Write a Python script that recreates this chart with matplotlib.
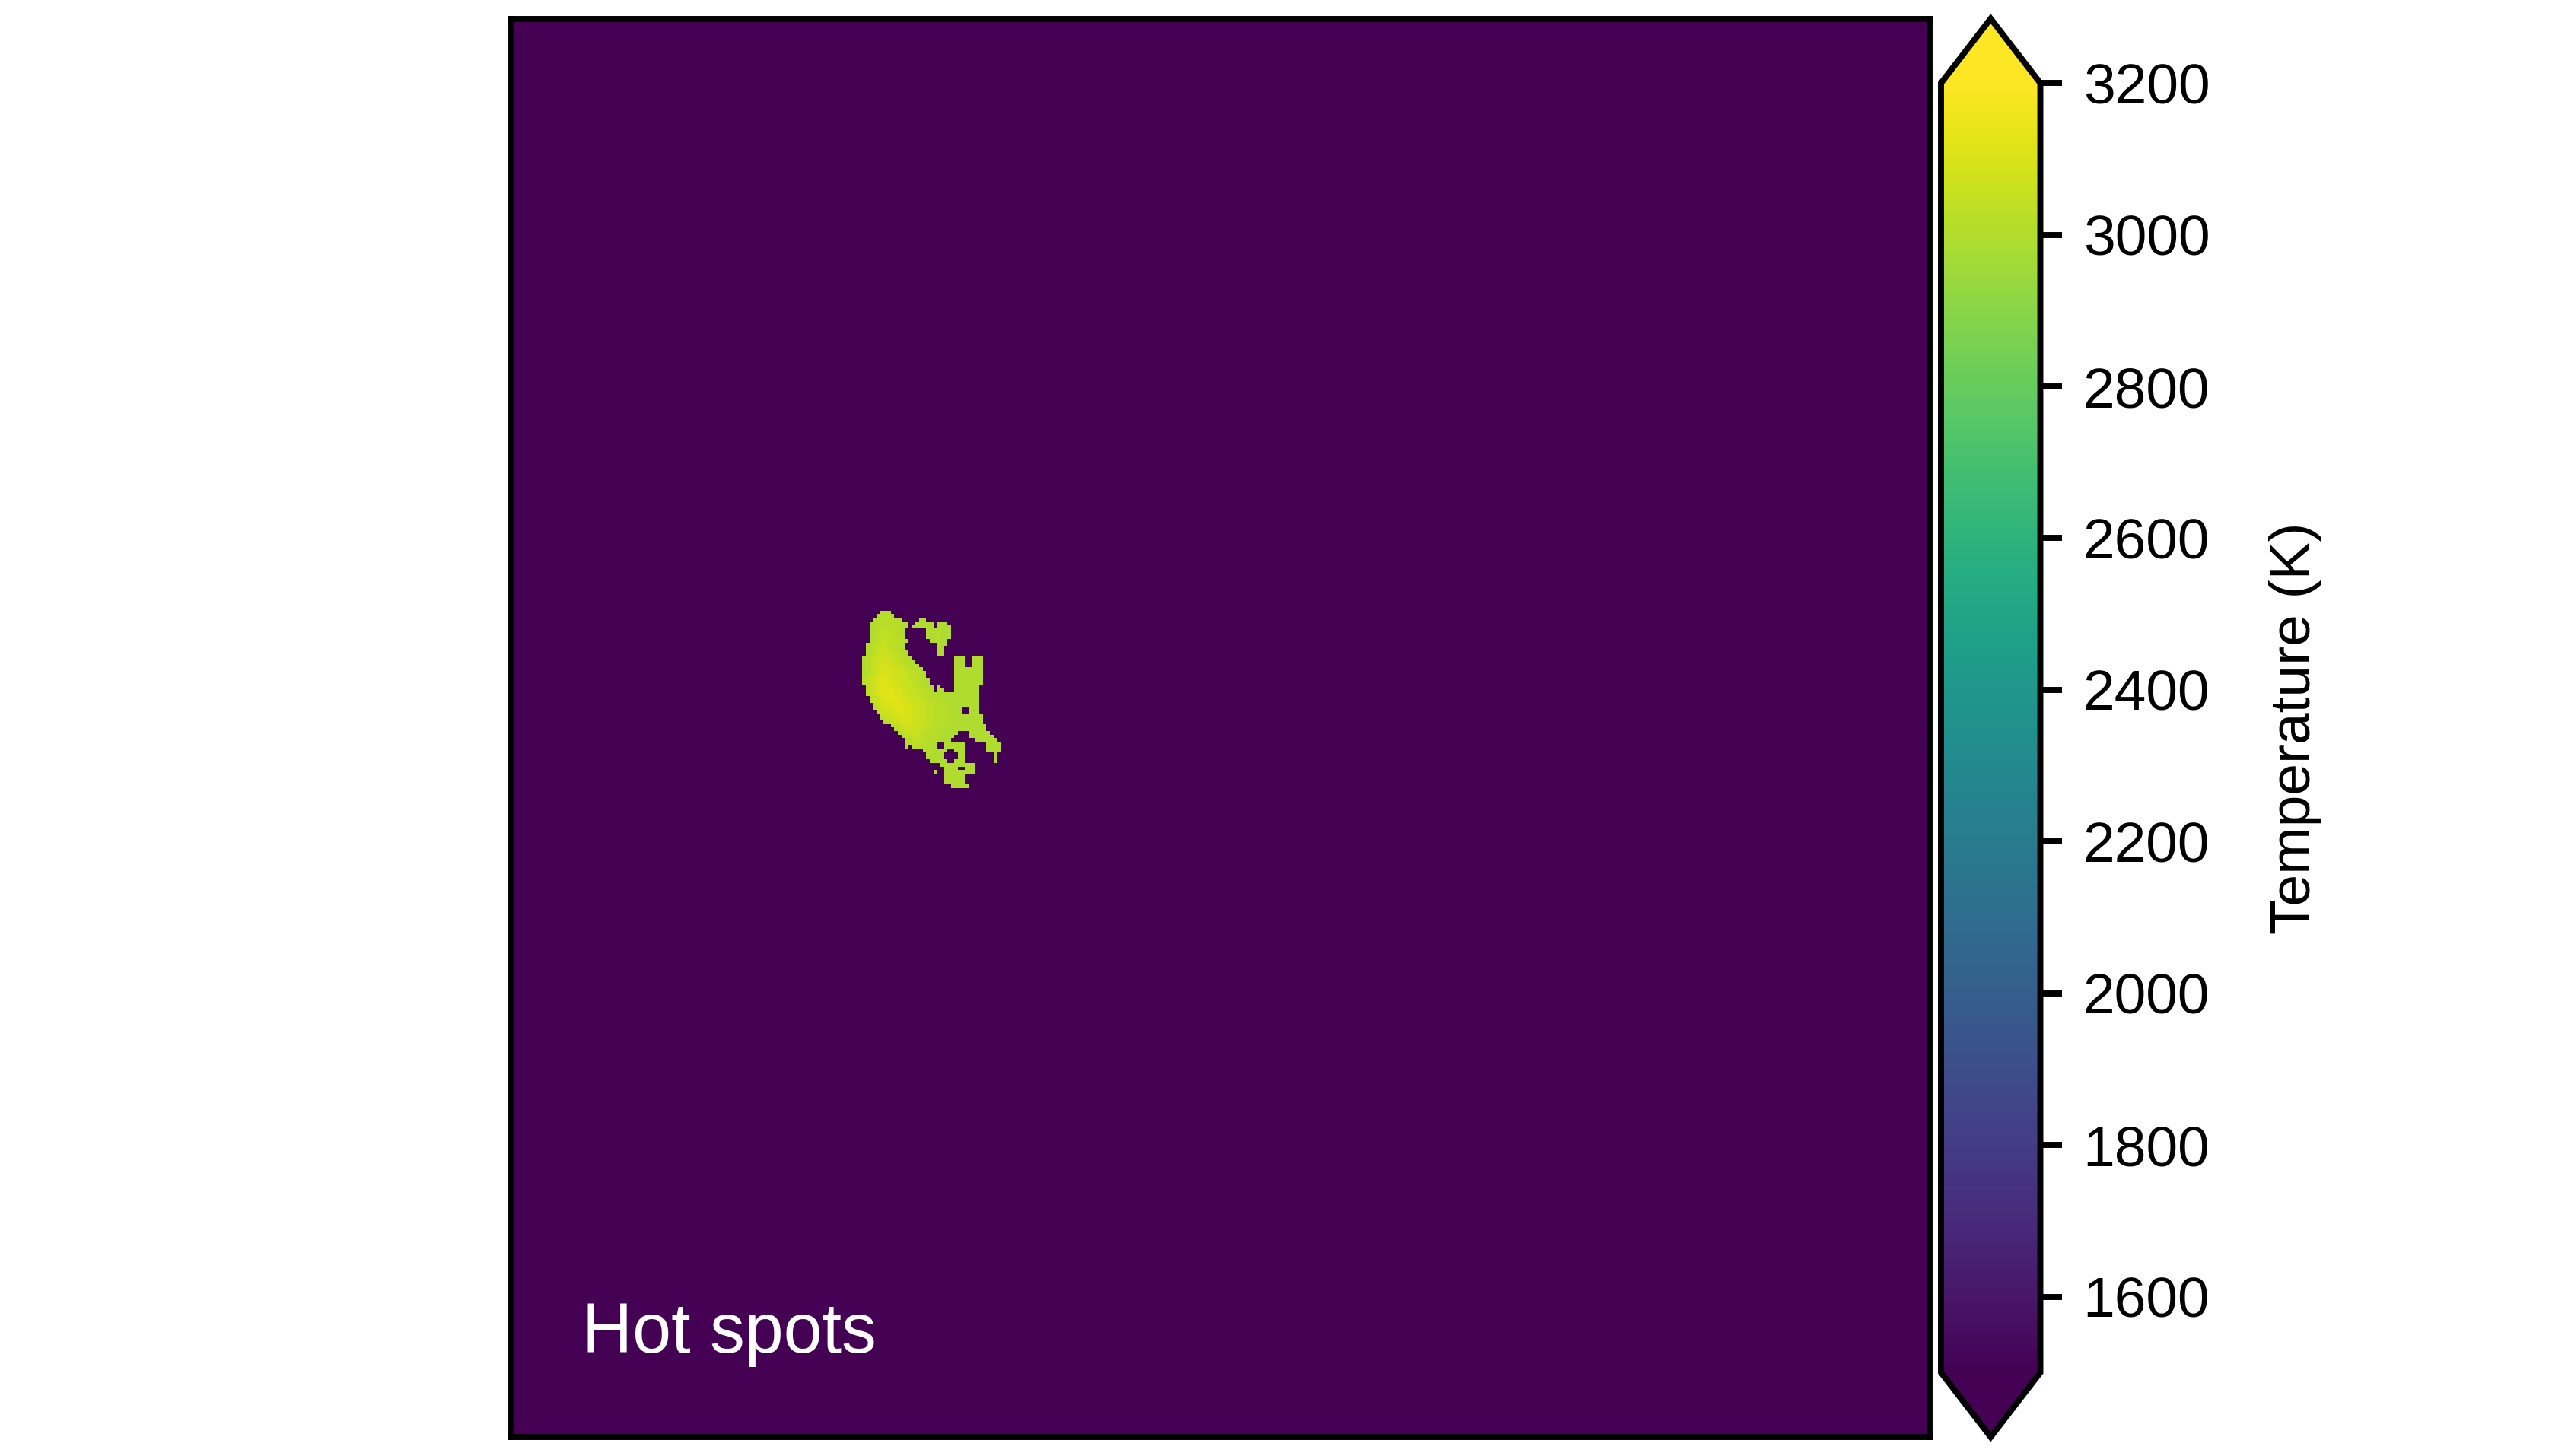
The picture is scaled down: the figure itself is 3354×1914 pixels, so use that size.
import matplotlib
matplotlib.use("Agg")
import matplotlib.pyplot as plt
import numpy as np

plt.rcParams['font.family'] = ['Liberation Sans', 'DejaVu Sans']

# 400 x 400 temperature map, everything outside the hot spot is cold
GRID_SIZE = 400
BACKGROUND_T = 300.0
T_MIN, T_MAX = 1500, 3200
cbar_ticks = [1600, 1800, 2000, 2200, 2400, 2600, 2800, 3000, 3200]
cbar_label = "Temperature (K)"
panel_label = "Hot spots"

# temperature level of each hot-spot cell
LEVEL_TEMPS = {'2': 3000, '3': 3020, '4': 3040, '5': 3060,
               '6': 3080, '7': 3100, '8': 3120}

# hot spot: one entry per image row starting at row 167,
# each run is (first column, levels of consecutive cells)
SPOT_ROW0 = 167
spot_runs = [
    [(104, "232")],
    [(103, "23332")],
    [(102, "23333332"), (115, "22")],
    [(101, "23333333322"), (114, "22222"), (120, "222")],
    [(101, "23334333322"), (113, "222222"), (120, "2222")],
    [(101, "2334443332"), (117, "2222222")],
    [(101, "2344443332"), (117, "2223222")],
    [(101, "2344444332"), (117, "2223222")],
    [(101, "23445444332"), (118, "22222")],
    [(100, "23445544332"), (120, "222")],
    [(100, "23455544332"), (120, "22")],
    [(100, "234555544332"), (120, "22")],
    [(100, "234556554432"), (120, "22")],
    [(99, "23455665544332"), (125, "222"), (130, "222")],
    [(99, "234566665544332"), (125, "222"), (130, "222")],
    [(99, "2345667665544332"), (125, "222"), (130, "222")],
    [(99, "23456777665544332"), (125, "22222222")],
    [(99, "234567776665544332"), (125, "22222222")],
    [(99, "345678877665544332"), (125, "22222222")],
    [(99, "3456788776655443322"), (125, "22222222")],
    [(99, "3456788877665544332"), (125, "22222222")],
    [(100, "4567888776655443322"), (120, "2"), (125, "2222222")],
    [(100, "4567888877665544332"), (120, "22"), (125, "2222222")],
    [(100, "45678888776655443332222222222222")],
    [(101, "4567888877665544333322222222222")],
    [(101, "4567788887766554433332222222222")],
    [(102, "456778888776655443333222222222")],
    [(102, "4566778887766554433332222"), (129, "222")],
    [(103, "456677887766554433332222"), (129, "222")],
    [(104, "45667787766554433332222222222")],
    [(104, "34566777766554433332222222222")],
    [(105, "3456677766554433332222222222")],
    [(107, "345666655443333222222222222")],
    [(108, "34556655443333222222222222")],
    [(109, "34555544333322222"), (129, "222222")],
    [(110, "344554433332222"), (129, "2222222")],
    [(111, "3344433332222"), (131, "222222")],
    [(111, "334433322"), (122, "222222"), (134, "2222")],
    [(111, "3"), (113, "3333222"), (122, "222222"), (134, "2222")],
    [(116, "3322222"), (125, "222"), (134, "2222")],
    [(117, "32222"), (126, "22"), (136, "2")],
    [(117, "22222"), (126, "22"), (136, "2")],
    [(118, "22222"), (125, "222"), (136, "2")],
    [(121, "2222222222")],
    [(122, "2222"), (128, "222")],
    [(119, "2"), (122, "222222222")],
    [(122, "222222")],
    [(122, "222222")],
    [(122, "222222")],
    [(124, "22222")],
]

field = np.full((GRID_SIZE, GRID_SIZE), BACKGROUND_T)
for i, runs in enumerate(spot_runs):
    row = SPOT_ROW0 + i
    for col0, levels in runs:
        for j, ch in enumerate(levels):
            field[row, col0 + j] = LEVEL_TEMPS[ch]

W, H = 3354, 1914
fig = plt.figure(figsize=(W / 300, H / 300), dpi=300)

ax = fig.add_axes([672 / W, 25 / H, 1864 / W, 1864.5 / H])
im = ax.imshow(field, cmap='viridis', vmin=T_MIN, vmax=T_MAX,
               interpolation='nearest', aspect='auto')
ax.set_xticks([])
ax.set_yticks([])
for s in ax.spines.values():
    s.set_linewidth(1.9)

ax.text(0.05, 0.0595, panel_label, transform=ax.transAxes,
        color='white', fontsize=22, ha='left', va='baseline')

cax = fig.add_axes([2551 / W, 25 / H, 130.5 / W, 1864.5 / H])
cb = fig.colorbar(im, cax=cax, extend='both', ticks=cbar_ticks)
cb.outline.set_linewidth(1.9)
cb.ax.tick_params(labelsize=18, length=7, width=1.9, pad=6.5)
cb.set_label(cbar_label, fontsize=18, labelpad=18.5)

fig.savefig('out.png', dpi=300)
